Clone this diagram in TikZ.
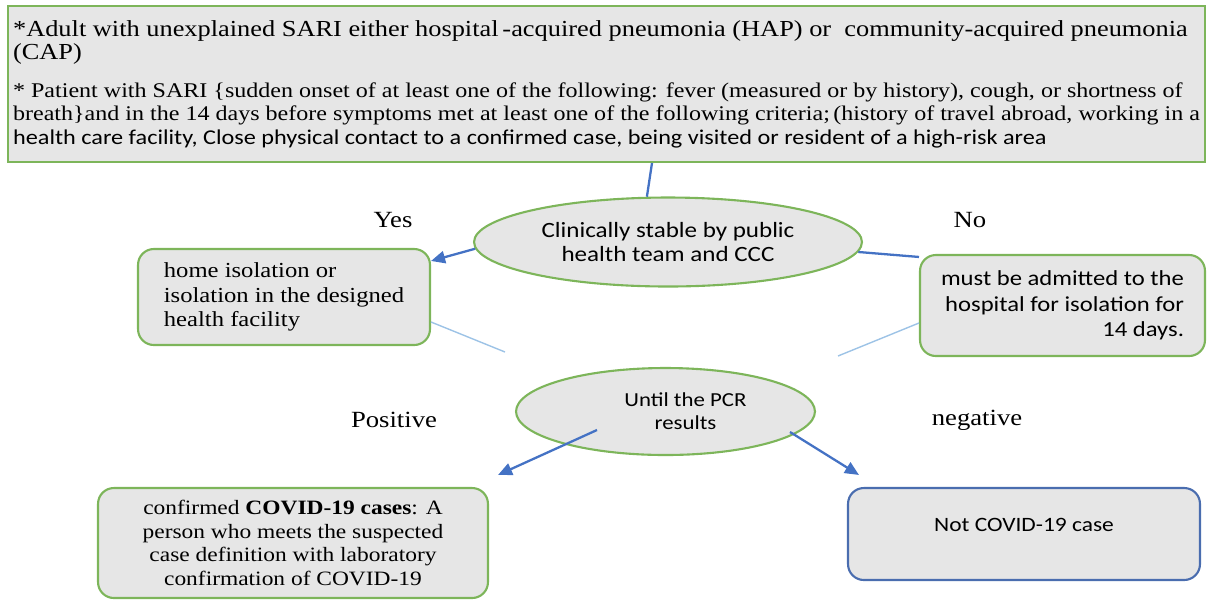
\documentclass[tikz,border=0pt]{standalone}
\usepackage{fontspec}
\setmainfont[FakeStretch=1.15]{Liberation Serif}
\newfontfamily\calibri[FakeStretch=1.15]{Carlito}
\usetikzlibrary{shapes.geometric, arrows.meta, positioning}
\definecolor{boxgreen}{HTML}{7DB55A}
\definecolor{boxgray}{HTML}{E6E6E6}
\definecolor{linkblue}{HTML}{4472C4}
\definecolor{faintblue}{HTML}{9DC3E6}
\definecolor{covblue}{HTML}{4A6DAF}
\newcommand{\critbig}{\fontsize{13.05}{13.7}\selectfont}

\begin{document}
\begin{tikzpicture}[x=0.02cm, y=-0.02cm,
  block/.style={draw=boxgreen, fill=boxgray, line width=1.2pt, rounded corners=9pt, inner sep=0pt},
  oval/.style={ellipse, draw=boxgreen, fill=boxgray, line width=1.2pt, inner sep=0pt, align=center, font=\calibri\fontsize{12.4}{14.2}\selectfont},
  link/.style={draw=linkblue, line width=1.3pt},
  arr/.style={link, -{Triangle[length=8pt,width=7pt]}},
  faint/.style={draw=faintblue, line width=0.8pt},
  lbl/.style={font=\fontsize{13.2}{15}\selectfont}]
\useasboundingbox (0,0) rectangle (1210,600);

% Case definition
\node[block, rounded corners=0pt, minimum width=23.94cm, minimum height=3.12cm, align=left, font=\fontsize{11.9}{13.4}\selectfont] (crit) at (606.5,84)
  {{\critbig *Adult with unexplained SARI either hospital\,-acquired pneumonia (HAP) or\ \ community-acquired pneumonia}\\
   {\critbig (CAP)}\\[8pt]
   * Patient with SARI \{sudden onset of at least one of the following: fever (measured or by history), cough, or shortness of\\
   breath\}and in the 14 days before symptoms met at least one of the following criteria;\,(history of travel abroad, working in a\\
   {\calibri\fontsize{12}{13.4}\selectfont health care facility, Close physical contact to a confirmed case, being visited or resident of a high-risk area}};

% Decisions
\node[oval, minimum width=7.76cm, minimum height=1.78cm] (stable) at (668,242) {Clinically stable by public\\ health team and CCC};
\node[oval, minimum width=5.98cm, minimum height=1.74cm, font=\calibri\fontsize{11.3}{13}\selectfont] (pcr) at (665.5,411.5) {\hspace*{0.8cm}Until the PCR\\ \hspace*{0.8cm}results};

% Outcomes
\node[block, minimum width=5.84cm, minimum height=1.92cm, align=left, font=\fontsize{12.2}{14}\selectfont] (home) at (284,297)
  {home isolation or\\ isolation in the designed\\ health facility};
\node[block, minimum width=5.7cm, minimum height=2.02cm, align=right, font=\calibri\fontsize{12.2}{14.5}\selectfont] (admit) at (1062.5,305.5)
  {must be admitted to the\\ hospital for isolation for\\ 14 days.};
\node[block, minimum width=7.8cm, minimum height=2.2cm, align=center, font=\fontsize{11.6}{13.4}\selectfont] (confirmed) at (293,543)
  {confirmed \textbf{COVID-19 cases}: A\\ person who meets the suspected\\ case definition with laboratory\\ confirmation of COVID-19};
\node[block, draw=covblue, minimum width=7.04cm, minimum height=1.84cm, text height=0.26cm, text depth=0.37cm, font=\calibri\fontsize{11.6}{13}\selectfont] (notcov) at (1024,534) {Not COVID-19 case};

% Labels
\node[lbl] (yes) at (393,220) {Yes};
\node[lbl] (no) at (970,220) {No};
\node[lbl] (positive) at (394,420) {Positive};
\node[lbl] (negative) at (977,420) {negative};

% Connectors
\coordinate (homeend) at (505,352);
\coordinate (admitend) at (838,356);
\draw[link] ([xshift=0.91cm]crit.south) -- (stable.115);
\draw[arr] (stable.182) -- ([yshift=-0.26cm]home.north east);
\draw[link] (stable.-3) -- ([yshift=-0.06cm]admit.north west);
\draw[faint] ([yshift=-0.5cm]home.east) -- (homeend);
\draw[faint] ([yshift=-0.35cm]admit.west) -- (admitend);
\draw[arr] ([shift={(-68.5,18.5)}]pcr.center) -- ([shift={(9,-12)}]confirmed.north east);
\draw[arr] ([shift={(124.5,20.5)}]pcr.center) -- ([shift={(12,-12)}]notcov.north west);
\end{tikzpicture}
\end{document}
